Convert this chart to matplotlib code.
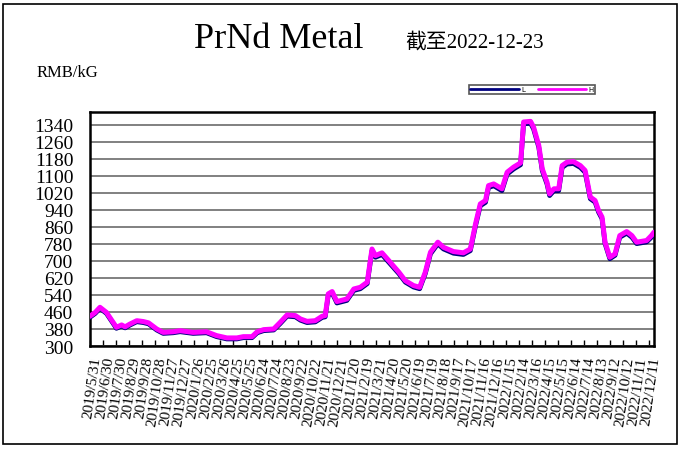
import matplotlib
matplotlib.use("Agg")
import matplotlib.pyplot as plt
import pandas as pd
from matplotlib.patches import Rectangle

# PrNd metal price, RMB/kG
dates = ["2019-05-31", "2019-06-12", "2019-06-23", "2019-07-08", "2019-07-31", "2019-08-12",
         "2019-08-20", "2019-08-31", "2019-09-16", "2019-10-01", "2019-10-13", "2019-11-01",
         "2019-11-16", "2019-12-09", "2019-12-25", "2020-01-24", "2020-02-24", "2020-03-18",
         "2020-04-11", "2020-05-04", "2020-05-19", "2020-06-08", "2020-06-20", "2020-07-05",
         "2020-07-28", "2020-08-12", "2020-08-28", "2020-09-16", "2020-09-28", "2020-10-13",
         "2020-11-01", "2020-11-17", "2020-11-24", "2020-12-01", "2020-12-10", "2020-12-21",
         "2021-01-13", "2021-01-29", "2021-02-13", "2021-03-01", "2021-03-12", "2021-03-20",
         "2021-04-04", "2021-04-23", "2021-05-13", "2021-05-28", "2021-06-16", "2021-06-30",
         "2021-07-13", "2021-07-25", "2021-08-11", "2021-08-24", "2021-09-16", "2021-10-09",
         "2021-10-25", "2021-11-06", "2021-11-17", "2021-11-29", "2021-12-06", "2021-12-18",
         "2022-01-06", "2022-01-18", "2022-02-02", "2022-02-18", "2022-02-25", "2022-03-13",
         "2022-03-20", "2022-04-01", "2022-04-09", "2022-04-20", "2022-04-26", "2022-05-06",
         "2022-05-17", "2022-05-25", "2022-06-05", "2022-06-20", "2022-07-06", "2022-07-17",
         "2022-07-29", "2022-08-09", "2022-08-17", "2022-08-25", "2022-09-01", "2022-09-12",
         "2022-09-24", "2022-10-05", "2022-10-21", "2022-11-02", "2022-11-13", "2022-12-06",
         "2022-12-17", "2022-12-23"]
high = [440, 458, 482, 458, 388, 399, 390, 403, 419, 415, 409, 380,
        364, 367, 372, 364, 367, 349, 338, 338, 344, 344, 367, 377,
        380, 411, 446, 443, 427, 416, 419, 440, 443, 545, 556, 509,
        521, 568, 576, 600, 756, 725, 738, 694, 647, 607, 584, 576,
        647, 741, 788, 764, 744, 738, 756, 874, 968, 984, 1054, 1062,
        1039, 1117, 1141, 1161, 1353, 1356, 1329, 1243, 1133, 1070, 1015, 1039,
        1039, 1148, 1164, 1167, 1148, 1125, 1000, 984, 937, 906, 788, 717,
        733, 819, 838, 819, 788, 796, 819, 835]
low = [435, 453, 477, 453, 383, 394, 385, 398, 414, 410, 404, 375,
       359, 362, 367, 359, 362, 344, 333, 333, 339, 339, 362, 372,
       375, 405, 440, 437, 421, 410, 413, 434, 437, 538, 549, 502,
       514, 561, 569, 593, 748, 717, 730, 686, 640, 600, 577, 569,
       640, 733, 780, 756, 736, 730, 748, 865, 959, 975, 1045, 1053,
       1030, 1108, 1132, 1152, 1344, 1347, 1320, 1234, 1124, 1061, 1007, 1030,
       1030, 1139, 1155, 1158, 1139, 1116, 992, 976, 929, 898, 781, 710,
       726, 811, 830, 811, 781, 789, 811, 827]

x = pd.to_datetime(dates)
ticks = pd.date_range("2019-05-31", "2022-12-23", freq="30D")
tick_labels = ["{}/{}/{}".format(t.year, t.month, t.day) for t in ticks]
yticks = list(range(300, 1341, 80))

fig = plt.figure(figsize=(6.81, 4.52), dpi=100)
ax = fig.add_axes([90 / 681, 1 - 347 / 452, 564 / 681, 234 / 452])

ax.plot(x, low, color="#000080", lw=3.4, solid_capstyle="round", label="L", zorder=3)
ax.plot(x, high, color="#ff00ff", lw=3.6, solid_capstyle="round", label="H", zorder=4)

ax.set_xlim(pd.Timestamp("2019-05-31"), pd.Timestamp("2022-12-23"))
ax.set_ylim(300, 1400)
ax.set_yticks(yticks)
ax.set_yticklabels([str(v) for v in yticks], fontfamily="Liberation Serif", fontsize=14)
ax.tick_params(axis="y", length=0, pad=12)
ax.set_xticks(ticks)
ax.set_xticklabels(tick_labels, rotation=82, ha="right", va="top",
                   fontfamily="Liberation Serif", fontsize=11, rotation_mode="anchor")
ax.tick_params(axis="x", direction="in", length=4, width=1, pad=7)
ax.grid(axis="y", color="#808080", lw=1.4)
for s in ax.spines.values():
    s.set_linewidth(1.8)
    s.set_color("black")

fig.text(0.41, 1 - 40 / 452, "PrNd Metal", ha="center", va="center",
         fontfamily="Liberation Serif", fontsize=26)
fig.text(405 / 681, 1 - 43 / 452, "截至2022-12-23", ha="left", va="center",
         fontfamily=["Liberation Serif", "Noto Sans CJK SC"], fontsize=15)
fig.text(37 / 681, 1 - 73 / 452, "RMB/kG", ha="left", va="center",
         fontfamily="Liberation Serif", fontsize=12)

leg = fig.legend(loc="center", bbox_to_anchor=(532 / 681, 1 - 90.5 / 452), ncol=2,
                 fontsize=5, handlelength=7, columnspacing=1.8, borderpad=0.2,
                 handletextpad=0.3, fancybox=False, framealpha=1)
leg.get_frame().set_edgecolor("#555555")
leg.get_frame().set_linewidth(1.2)
for line in leg.get_lines():
    line.set_linewidth(2)

fig.patches.append(Rectangle((3 / 681, 1 - 445 / 452), 674 / 681, 440 / 452,
                             transform=fig.transFigure, fill=False, ec="black", lw=1.2))

fig.savefig("out.png", dpi=100)
